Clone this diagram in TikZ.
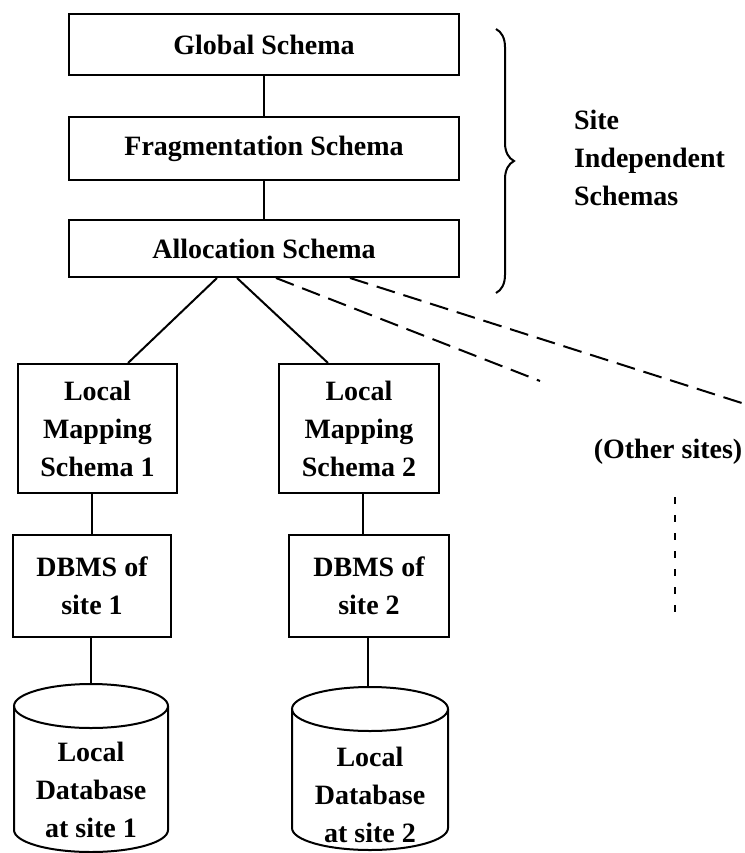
\documentclass[tikz,border=0pt]{standalone}
\usepackage{fontspec}
\setmainfont{Liberation Serif}
\usetikzlibrary{decorations.pathreplacing}
\begin{document}
\begin{tikzpicture}[x=1pt,y=-1pt,line width=2pt,
  lbl/.style={font=\bfseries\fontsize{28}{38}\selectfont,align=center,inner sep=0pt},
  box/.style={lbl,draw},
  farsite/.style={dash pattern=on 19pt off 9pt},
  downdots/.style={dash pattern=on 7pt off 11pt}]
\useasboundingbox (0,0) rectangle (744,853);

% site independent schemas
\node[box,minimum width=390,minimum height=61] (glob)  at (264,44.5)  {Global Schema};
\node[box,minimum width=390,minimum height=63] (frag)  at (264,148.5) {Fragmentation Schema};
\node[box,minimum width=390,minimum height=57] (alloc) at (264,248.5) {Allocation Schema};

% per-site schemas
\node[box,minimum width=159,minimum height=129] (map1)  at (97.5,428.5) {Local\\Mapping\\Schema 1};
\node[box,minimum width=160,minimum height=129] (map2)  at (359,428.5)  {Local\\Mapping\\Schema 2};
\node[box,minimum width=158,minimum height=102] (dbms1) at (92,586)     {DBMS of\\site 1};
\node[box,minimum width=160,minimum height=102] (dbms2) at (369,586)    {DBMS of\\site 2};

% local databases (y axis points down, so angle 90 is the lower side)
\draw (14,706) -- (14,830) arc[start angle=180,end angle=0,x radius=77,y radius=22] -- (168,706);
\draw (91,706) ellipse[x radius=77,y radius=22];
\coordinate (db1top) at (91,684);
\node[lbl] (db1) at (91,790) {Local\\Database\\at site 1};

\draw (292,709) -- (292,828) arc[start angle=180,end angle=0,x radius=78,y radius=22] -- (448,709);
\draw (370,709) ellipse[x radius=78,y radius=22];
\coordinate (db2top) at (368,687);
\node[lbl] (db2) at (370,795) {Local\\Database\\at site 2};

% brace and its label
\draw[decorate,decoration={brace,amplitude=18pt}] (496,29) -- (496,293);
\node[lbl,align=left,anchor=west] (sis) at (573,158) {Site\\Independent\\Schemas};

% other sites
\node[lbl] (other) at (668,452) {(Other sites)};
\coordinate (ds1) at (540,381);
\coordinate (ds2) at (748,405);
\coordinate (vd1) at (675,497);
\coordinate (vd2) at (675,613);

% connectors
\draw (glob.south) -- (frag.north);
\draw (frag.south) -- (alloc.north);
\draw ([xshift=-47pt]alloc.south) -- ([xshift=30.5pt]map1.north);
\draw ([xshift=-27pt]alloc.south) -- ([xshift=-31pt]map2.north);
\draw[farsite] ([xshift=12pt]alloc.south) -- (ds1);
\draw[farsite] ([xshift=86pt]alloc.south) -- (ds2);
\draw[downdots] (vd1) -- (vd2);
\draw (map1.south -| dbms1.north) -- (dbms1.north);
\draw ([xshift=4pt]map2.south) -- ([xshift=-6pt]dbms2.north);
\draw (dbms1.south -| db1top) -- (db1top);
\draw (dbms2.south -| db2top) -- (db2top);
\end{tikzpicture}
\end{document}
